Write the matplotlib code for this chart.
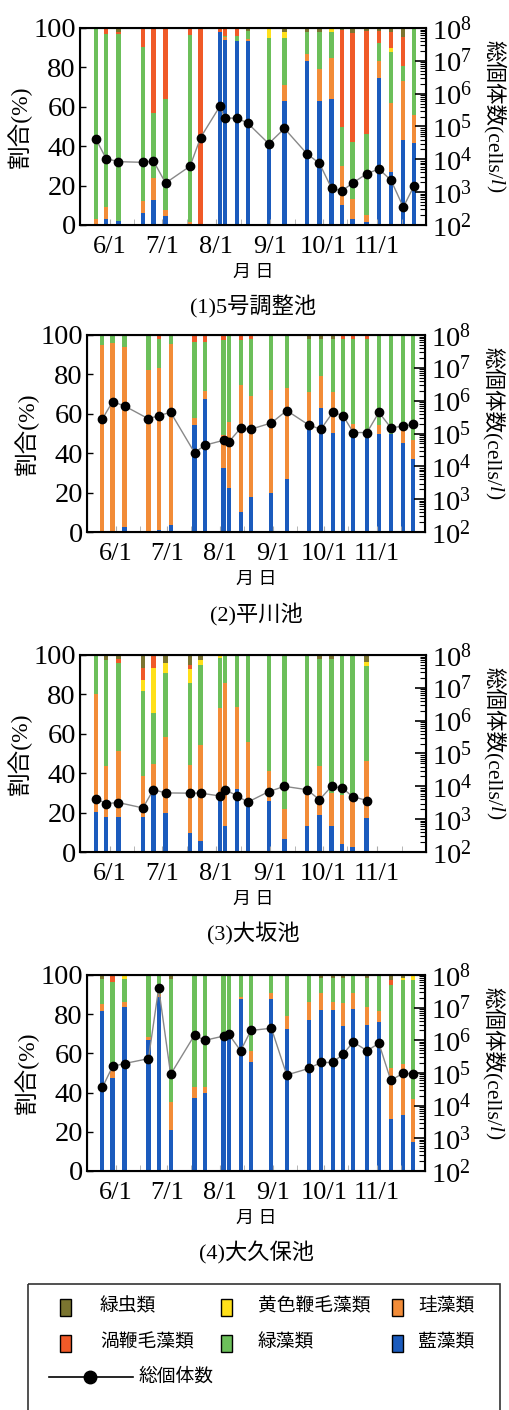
import numpy as np
import pandas as pd
import matplotlib
matplotlib.use('Agg')
import matplotlib.pyplot as plt
import matplotlib.dates as mdates
from matplotlib import transforms
from matplotlib.patches import Rectangle
from matplotlib.ticker import LogLocator, LogFormatterSciNotation

plt.rcParams['font.family'] = ['Liberation Serif', 'Noto Sans CJK JP']
plt.rcParams['mathtext.fontset'] = 'custom'
plt.rcParams['mathtext.rm'] = 'Liberation Serif'
plt.rcParams['mathtext.it'] = 'Liberation Serif:italic'

YEAR = 2013
# 採水日
sample_days = ['05-24', '05-30', '06-06', '06-20', '06-26', '07-03', '07-17', '07-23',
               '08-03', '08-06', '08-13', '08-19', '08-31', '09-09', '09-22', '09-29',
               '10-06', '10-12', '10-18', '10-26', '11-02', '11-09', '11-16', '11-22']
month_ticks = ['06-01', '07-01', '08-01', '09-01', '10-01', '11-01']
month_labels = ['6/1', '7/1', '8/1', '9/1', '10/1', '11/1']

# 分類群 (積み上げ順: 下から)
group_names = ['藍藻類', '珪藻類', '緑藻類', '黄色鞭毛藻類', '渦鞭毛藻類', '緑虫類']
group_colors = ['#1b5bbd', '#f28c38', '#6cbf5a', '#ffe01a', '#f05a28', '#7b7530']

# (1)5号調整池  割合(%)
p1_cyano = [0.5, 3, 2, 6, 12.5, 4.5, 0, 0, 98, 94, 93.5, 93.5, 40, 63, 83, 63, 64, 10, 3, 1.5, 74.5, 27, 43, 41.5]
p1_diatom = [2.5, 6, 0, 6, 11.5, 3, 1.5, 0, 0, 1.5, 0, 1, 0, 8, 4, 16, 21, 20, 10, 3.5, 8.5, 35, 30, 14.5]
p1_green = [97, 88, 95, 78.5, 33, 56.5, 95, 0, 0, 0.5, 2.5, 4, 55, 24, 11, 19, 13, 20, 29, 41, 9.5, 26, 7.5, 44]
p1_chryso = [0, 0, 0, 0, 0, 0, 0, 0, 0, 0, 0, 0, 5, 3, 0, 0, 2, 0, 0, 0, 0, 2, 0, 0]
p1_dino = [0, 3, 1, 9.5, 43, 36, 3.5, 100, 2, 4, 4, 0, 0, 0, 0, 0, 0, 49, 55.5, 52.5, 6, 8, 15, 0]
p1_eugl = [0, 0, 2, 0, 0, 0, 0, 0, 0, 0, 0, 1.5, 0, 2, 2, 2, 0, 1, 2.5, 1.5, 1.5, 2, 4.5, 0]
p1_total = [4.2e4, 1.05e4, 8.5e3, 8.1e3, 8.9e3, 1.9e3, 6.2e3, 4.6e4, 4.1e5, 1.8e5, 1.8e5, 1.26e5,
            3.0e4, 8.7e4, 1.45e4, 7.6e3, 1.3e3, 1.1e3, 1.9e3, 3.6e3, 5.1e3, 2.3e3, 3.5e2, 1.5e3]

# (2)平川池
p2_cyano = [0, 0, 2.5, 0, 1.2, 3.7, 54.4, 67.4, 32.3, 22.3, 10, 17.6, 19.8, 26.9, 52.7, 62.8, 50.5, 57.3, 48, 49, 49.8, 50, 45.4, 37.3]
p2_diatom = [95, 96, 91.5, 82, 82, 91.7, 3.6, 4.2, 17, 33.7, 64.7, 51.2, 52.2, 46.1, 18.6, 16.2, 20.8, 1, 7, 0, 4.6, 0, 6.4, 9.5]
p2_green = [5, 4, 6, 18, 15, 4.6, 38.6, 25, 48, 44, 23, 29, 28, 27, 26.7, 19, 26.7, 39.7, 43, 49, 45.6, 50, 48.2, 53.2]
p2_chryso = [0] * 24
p2_dino = [0, 0, 0, 0, 1.8, 0, 3.4, 3.4, 2.7, 0, 2.3, 2.2, 0, 0, 0, 0, 0, 2, 2, 2, 0, 0, 0, 0]
p2_eugl = [0, 0, 0, 0, 0, 0, 0, 0, 0, 0, 0, 0, 0, 0, 2, 2, 2, 0, 0, 0, 0, 0, 0, 0]
p2_total = [2.8e5, 9.3e5, 6.9e5, 2.8e5, 3.5e5, 4.4e5, 2.6e4, 4.4e4, 6.2e4, 5.5e4, 1.45e5, 1.35e5,
            2.1e5, 5.0e5, 1.8e5, 1.35e5, 4.4e5, 3.5e5, 1.07e5, 1.07e5, 4.4e5, 1.5e5, 1.66e5, 1.9e5]

# (3)大坂池 (10月末まで)
p3_cyano = [20.3, 17.7, 17.7, 17.7, 29.6, 19.8, 9.6, 5.7, 27, 13.3, 32, 23.6, 25.7, 6.6, 13, 18.6, 13, 4, 2.5, 17.2]
p3_diatom = [59.7, 26.1, 33.7, 21, 15.2, 38.8, 34.7, 48.7, 46, 72.3, 41.8, 32.4, 15.5, 15.2, 17, 25.2, 17, 25, 26.5, 29.1]
p3_green = [20, 53.7, 44.6, 43.1, 25.6, 32.1, 41.3, 40.6, 25.3, 14.4, 26.2, 44, 58.8, 78.2, 70, 54.2, 68, 71, 71, 48.1]
p3_chryso = [0, 0, 0, 5.6, 22.8, 5.4, 7.5, 2.5, 1.7, 0, 0, 0, 0, 0, 0, 0, 0, 0, 0, 2.2]
p3_dino = [0, 0, 2, 5.8, 6.8, 0, 1.8, 0, 0, 0, 0, 0, 0, 0, 0, 0, 0, 0, 0, 0]
p3_eugl = [0, 2.5, 2, 6.8, 0, 3.9, 5.1, 2.5, 0, 0, 0, 0, 0, 0, 0, 2, 2, 0, 0, 3.4]
p3_total = [4.2e3, 3.0e3, 3.2e3, 2.2e3, 7.9e3, 6.3e3, 6.2e3, 6.2e3, 5.1e3, 7.9e3,
            5.1e3, 3.3e3, 6.9e3, 1.0e4, 7.9e3, 3.9e3, 1.0e4, 8.9e3, 4.9e3, 3.7e3]

# (4)大久保池
p4_cyano = [81.8, 47.3, 83.8, 66.8, 88.6, 20.9, 37, 40, 69.4, 72, 87.6, 55.8, 88, 72.4, 77, 82, 82, 74, 82.5, 74.5, 75.9, 26.4, 28.6, 15]
p4_diatom = [3.2, 4.7, 2.2, 1.7, 1.5, 14.5, 6, 3, 0, 0, 1, 5.2, 2.6, 6.6, 9.4, 8.6, 4.4, 11.5, 8.1, 9.3, 5.9, 26, 26, 21.6]
p4_green = [13, 44.6, 12, 31.5, 9.9, 62.6, 57, 57, 30.6, 28, 11.4, 39, 9.4, 21, 13.6, 7.7, 11.9, 12.8, 9.4, 14.5, 18.2, 42.6, 42.7, 60.9]
p4_chryso = [0, 0, 2, 0, 0, 0, 0, 0, 0, 0, 0, 0, 0, 0, 0, 0, 0, 0, 0, 0, 0, 0, 1, 2.5]
p4_dino = [0, 3.4, 0, 0, 0, 0, 0, 0, 0, 0, 0, 0, 0, 0, 0, 0, 0, 0, 0, 0, 0, 2.5, 0, 0]
p4_eugl = [2, 0, 0, 0, 0, 2, 0, 0, 0, 0, 0, 0, 0, 0, 0, 1.7, 1.7, 1.7, 0, 1.7, 0, 2.5, 1.7, 0]
p4_total = [3.6e4, 1.6e5, 1.95e5, 2.75e5, 4.0e7, 9.1e4, 1.45e6, 1.0e6, 1.35e6, 1.55e6, 4.8e5, 2.0e6,
            2.35e6, 8.7e4, 1.38e5, 2.1e5, 2.1e5, 3.8e5, 8.9e5, 4.8e5, 8.1e5, 5.9e4, 9.8e4, 9.5e4]

ponds = [
    ('(1)5号調整池', [p1_cyano, p1_diatom, p1_green, p1_chryso, p1_dino, p1_eugl], p1_total),
    ('(2)平川池', [p2_cyano, p2_diatom, p2_green, p2_chryso, p2_dino, p2_eugl], p2_total),
    ('(3)大坂池', [p3_cyano, p3_diatom, p3_green, p3_chryso, p3_dino, p3_eugl], p3_total),
    ('(4)大久保池', [p4_cyano, p4_diatom, p4_green, p4_chryso, p4_dino, p4_eugl], p4_total),
]


def to_num(days):
    return mdates.date2num(pd.to_datetime([f'{YEAR}-{d}' for d in days]))


W, H = 509, 1410
fig = plt.figure(figsize=(W / 100, H / 100), dpi=100)

# 各パネルの枠 (left, right, top, bottom) をピクセルで
frames = [(80, 426, 28, 225), (87, 425, 335, 532), (80, 426, 655, 852), (87, 425, 975, 1171)]

x_all = to_num(sample_days)
xmin, xmax = to_num(['05-15', '11-29'])

for (title, shares, total), (l, r, t, b) in zip(ponds, frames):
    ax = fig.add_axes([l / W, 1 - b / H, (r - l) / W, (b - t) / H])
    x = x_all[:len(total)]
    bottom = np.zeros(len(x))
    for vals, color in zip(shares, group_colors):
        vals = np.array(vals, dtype=float)
        ax.bar(x, vals, width=2.5, bottom=bottom, color=color, linewidth=0)
        bottom += vals
    ax.set_xlim(xmin, xmax)
    ax.set_ylim(0, 100)
    ax.set_yticks([0, 20, 40, 60, 80, 100])
    ax.set_xticks(to_num(month_ticks))
    ax.set_xticklabels(month_labels)
    ax.xaxis.set_minor_locator(mdates.MonthLocator(bymonthday=15))
    ax.tick_params(axis='x', which='both', direction='in', length=4, color='#aaaaaa',
                   labelsize=19, pad=8)
    ax.tick_params(axis='y', direction='in', length=4, width=1, labelsize=20.5, pad=3)
    ax.set_ylabel('割合(%)', fontsize=17, labelpad=1)
    for s in ax.spines.values():
        s.set_linewidth(1.5)

    ax2 = ax.twinx()
    ax2.set_yscale('log')
    ax2.set_ylim(1e2, 1e8)
    ax2.yaxis.set_major_locator(LogLocator(base=10, numticks=20))
    ax2.yaxis.set_major_formatter(LogFormatterSciNotation(labelOnlyBase=True))
    ax2.yaxis.set_minor_locator(LogLocator(base=10, subs=np.arange(2, 10), numticks=100))
    ax2.plot(x, total, '-', color='#888888', lw=1)
    ax2.plot(x, total, 'o', color='black', ms=6)
    ax2.tick_params(axis='y', which='major', direction='in', length=8, width=1.2,
                    labelsize=20.5, pad=4)
    ax2.tick_params(axis='y', which='minor', direction='in', length=4, width=0.8)

    # 右軸ラベル: 単位の l だけ斜体
    off = transforms.offset_copy(ax.transAxes, fig=fig, x=68, y=-12, units='dots')
    lab1 = ax.text(1, 1, '総個体数(cells/', fontsize=15.5, rotation=270,
                   ha='center', va='top', transform=off)
    lab2 = ax.annotate('l', xy=(0.5, 0), xycoords=lab1, fontsize=15.5, rotation=270,
                       style='italic', ha='center', va='top')
    ax.annotate(')', xy=(0.5, 0), xycoords=lab2, fontsize=15.5, rotation=270,
                ha='center', va='top')

    ax.text(0.5, 0, '月 日', fontsize=13, ha='center', va='center',
            transform=transforms.offset_copy(ax.transAxes, fig=fig, y=-47, units='dots'))
    ax.text(0.5, 0, title, fontsize=16, ha='center', va='center',
            transform=transforms.offset_copy(ax.transAxes, fig=fig, y=-82, units='dots'))

# 凡例
leg = fig.add_axes([0, 0, 1, 140 / H])
leg.set_xlim(0, W)
leg.set_ylim(H, H - 140)
leg.axis('off')
leg.add_patch(Rectangle((28, 1284), 472, 140, fill=False, lw=1.2, ec='#333333'))

legend_order = [5, 3, 1, 4, 2, 0]  # 緑虫, 黄色鞭毛, 珪藻 / 渦鞭毛, 緑藻, 藍藻
patch_x = [66, 227, 398]
text_x = [100, 258, 418]
row_y = [1307, 1343]
for k, gi in enumerate(legend_order):
    row, col = divmod(k, 3)
    leg.add_patch(Rectangle((patch_x[col] - 5.5, row_y[row] - 8.5), 11, 17,
                            fc=group_colors[gi], ec='black', lw=1))
    leg.text(text_x[col], row_y[row], group_names[gi], fontsize=13.5, va='center', ha='left')

leg.plot([49, 133], [1377, 1377], color='black', lw=1.2)
leg.plot([90], [1377], 'o', color='black', ms=9)
leg.text(138, 1377, '総個体数', fontsize=13.5, va='center', ha='left')

fig.savefig('out.png', dpi=100)
